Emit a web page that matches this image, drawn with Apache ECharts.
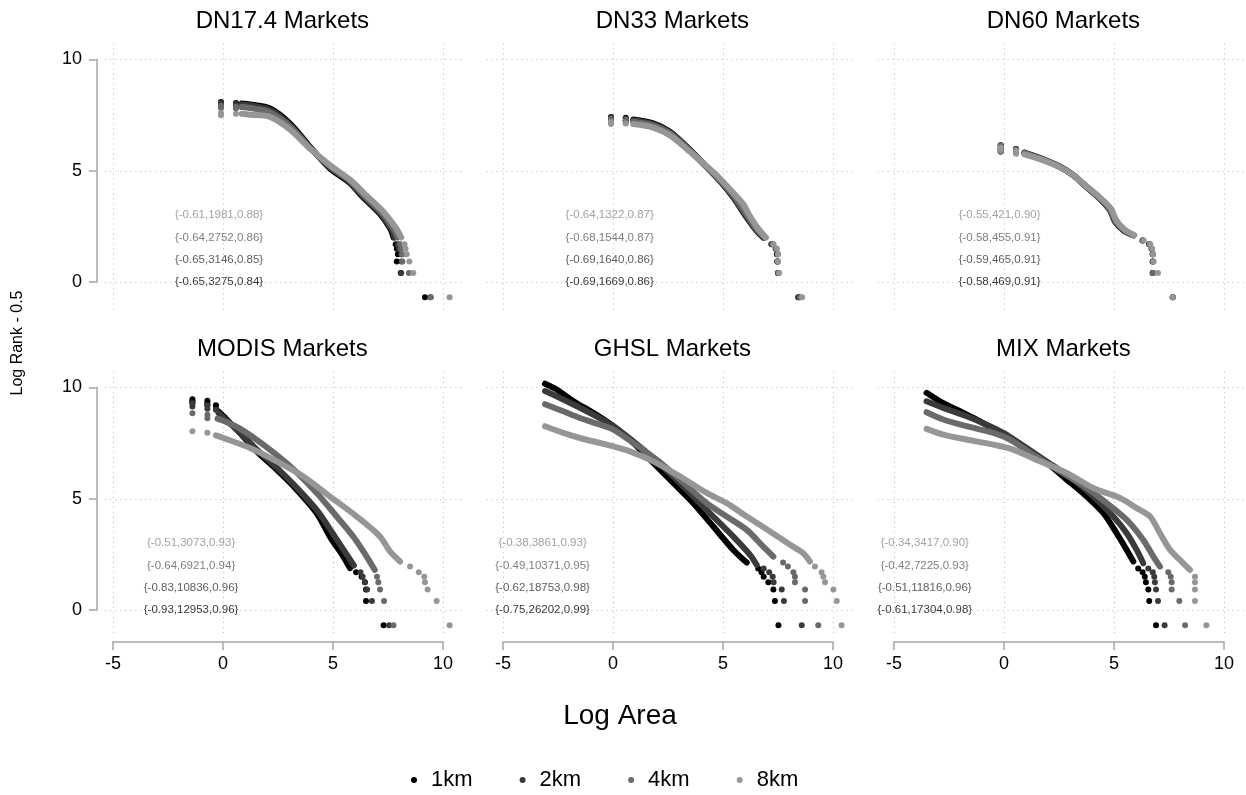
<!DOCTYPE html>
<html>
<head>
<meta charset="utf-8">
<script src="https://cdn.jsdelivr.net/npm/echarts@6/dist/echarts.min.js"></script>
<style>
html, body { margin: 0; padding: 0; background: #fff; }
#main { width: 1246px; height: 795px; }
</style>
</head>
<body>
<div id="main"></div>
<script>
var PANEL_TITLES = ['DN17.4 Markets', 'DN33 Markets', 'DN60 Markets', 'MODIS Markets', 'GHSL Markets', 'MIX Markets'];
var SERIES_NAMES = ['1km', '2km', '4km', '8km'];
var X_TICKS = [-5, 0, 5, 10];
var Y_TICKS = [0, 5, 10];

/* each panel: [1km, 2km, 4km, 8km], dense part of the curve and the loose dots */
var dn17Curves = [
	[[0.85,8.02],[1.23,7.98],[2.14,7.8],[3.05,7.12],[3.95,6.08],[4.86,5.1],[5.77,4.45],[6.37,3.8],[7.14,3.05],[7.6,2.4],[7.75,2.0]],
	[[0.85,7.98],[1.23,7.94],[2.14,7.73],[3.05,7.05],[3.95,6.05],[4.86,5.15],[5.77,4.5],[6.37,3.85],[7.14,3.1],[7.65,2.4],[7.8,2.0]],
	[[0.85,7.86],[1.23,7.82],[2.14,7.62],[3.05,6.98],[3.95,6.02],[4.86,5.2],[5.77,4.55],[6.4,3.9],[7.2,3.15],[7.75,2.4],[7.95,2.0]],
	[[0.85,7.56],[1.23,7.52],[2.14,7.42],[3.05,6.85],[3.95,6.0],[4.86,5.25],[5.77,4.6],[6.45,3.95],[7.25,3.2],[7.85,2.45],[8.1,2.0]]
];
var dn17Dots = [
	[[-0.09,8.09],[-0.09,7.97],[0.59,8.05],[0.59,7.93],[7.85,1.7],[7.9,1.5],[7.95,1.25],[7.9,0.92],[8.08,0.41],[9.18,-0.69]],
	[[-0.09,8.05],[-0.09,7.92],[0.59,8.0],[0.59,7.88],[7.95,1.7],[8.0,1.5],[8.1,1.25],[8.12,0.92],[8.1,0.41],[9.42,-0.69]],
	[[-0.09,7.92],[-0.09,7.82],[0.59,7.88],[0.59,7.8],[8.05,1.7],[8.1,1.5],[8.15,1.25],[8.15,0.92],[8.45,0.41],[9.45,-0.69]],
	[[-0.09,7.59],[-0.09,7.5],[0.59,7.56],[8.25,1.7],[8.3,1.5],[8.35,1.25],[8.47,0.92],[8.65,0.41],[10.3,-0.69]]
];
var dn33Curves = [
	[[0.92,7.3],[1.83,7.13],[2.59,6.76],[3.35,6.08],[4.26,5.17],[4.86,4.55],[5.47,3.8],[6.08,2.9],[6.53,2.3],[6.83,2.0]],
	[[0.92,7.27],[1.83,7.1],[2.59,6.73],[3.35,6.06],[4.26,5.16],[4.86,4.55],[5.47,3.82],[6.08,2.92],[6.53,2.32],[6.85,2.0]],
	[[0.92,7.2],[1.83,7.03],[2.59,6.68],[3.35,6.02],[4.26,5.18],[4.86,4.6],[5.47,3.9],[6.1,3.0],[6.55,2.35],[6.9,2.0]],
	[[0.92,7.1],[1.83,6.94],[2.59,6.59],[3.35,5.98],[4.26,5.2],[4.86,4.65],[5.47,4.0],[5.92,3.5],[6.2,3.0],[6.6,2.4],[6.95,2.0]]
];
var dn33Dots = [
	[[-0.09,7.42],[-0.09,7.3],[0.58,7.38],[0.58,7.25],[7.2,1.7],[7.4,1.5],[7.45,1.25],[7.47,0.92],[7.5,0.41],[8.42,-0.69]],
	[[-0.09,7.4],[-0.09,7.28],[0.58,7.35],[0.58,7.22],[7.22,1.7],[7.4,1.5],[7.47,1.25],[7.47,0.92],[7.5,0.41],[8.45,-0.69]],
	[[-0.09,7.34],[-0.09,7.22],[0.58,7.28],[0.58,7.15],[7.25,1.7],[7.42,1.5],[7.5,1.25],[7.5,0.92],[7.52,0.41],[8.5,-0.69]],
	[[-0.09,7.19],[-0.09,7.1],[0.58,7.12],[7.3,1.7],[7.45,1.5],[7.5,1.25],[7.5,0.92],[7.55,0.41],[8.6,-0.69]]
];
var dn60Curves = [
	[[0.93,5.82],[1.64,5.57],[2.55,5.18],[3.15,4.8],[3.76,4.27],[4.36,3.75],[4.82,3.23],[5.05,2.72],[5.42,2.33],[5.88,2.1]],
	[[0.93,5.81],[1.64,5.56],[2.55,5.17],[3.15,4.79],[3.76,4.26],[4.36,3.74],[4.82,3.22],[5.05,2.71],[5.42,2.32],[5.88,2.1]],
	[[0.93,5.79],[1.64,5.55],[2.55,5.16],[3.15,4.8],[3.76,4.28],[4.36,3.77],[4.84,3.25],[5.08,2.74],[5.45,2.34],[5.9,2.1]],
	[[0.93,5.74],[1.64,5.52],[2.55,5.15],[3.15,4.8],[3.76,4.3],[4.36,3.8],[4.86,3.3],[5.1,2.78],[5.48,2.36],[5.92,2.1]]
];
var dn60Dots = [
	[[-0.15,6.15],[-0.15,6.0],[-0.15,5.88],[0.55,5.98],[0.55,5.82],[6.3,1.87],[6.6,1.7],[6.71,1.5],[6.76,1.25],[6.76,0.92],[6.76,0.41],[7.67,-0.69]],
	[[-0.15,6.14],[-0.15,5.99],[-0.15,5.87],[0.55,5.97],[0.55,5.81],[6.3,1.87],[6.6,1.7],[6.71,1.5],[6.76,1.25],[6.76,0.92],[6.76,0.41],[7.67,-0.69]],
	[[-0.15,6.12],[-0.15,5.97],[-0.15,5.86],[0.55,5.95],[0.55,5.8],[6.32,1.87],[6.62,1.7],[6.72,1.5],[6.77,1.25],[6.77,0.92],[6.78,0.41],[7.67,-0.69]],
	[[-0.15,6.04],[-0.15,5.92],[0.55,5.9],[0.55,5.76],[6.35,1.87],[6.65,1.7],[6.74,1.5],[6.78,1.25],[6.8,0.92],[7.0,0.41],[7.67,-0.69]]
];
var modisCurves = [
	[[-0.21,8.93],[0.02,8.71],[0.77,7.96],[1.53,7.13],[2.44,6.31],[3.35,5.41],[4.26,4.35],[4.86,3.3],[5.47,2.4],[5.77,1.88]],
	[[-0.2,8.85],[0.02,8.64],[0.77,7.98],[1.53,7.22],[2.44,6.4],[3.35,5.5],[4.26,4.5],[4.95,3.5],[5.55,2.6],[5.95,2.0]],
	[[-0.25,8.6],[0.02,8.5],[0.77,8.15],[1.83,7.43],[3.05,6.46],[4.26,5.26],[5.17,4.2],[5.92,3.3],[6.53,2.4],[6.9,1.8]],
	[[-0.32,7.85],[0.02,7.73],[1.23,7.28],[2.44,6.68],[3.65,6.0],[4.86,5.1],[6.08,4.2],[7.14,3.3],[7.59,2.63],[8.05,2.18]]
];
var modisDots = [
	[[-1.39,9.47],[-1.39,9.38],[-1.39,9.3],[-0.71,9.4],[-0.71,9.3],[-0.71,9.2],[-0.32,9.2],[-0.32,9.05],[6.05,1.7],[6.3,1.5],[6.45,1.25],[6.5,0.92],[6.5,0.41],[7.3,-0.69]],
	[[-1.39,9.29],[-1.39,9.15],[-0.71,9.2],[-0.71,9.05],[-0.32,9.0],[6.25,1.7],[6.35,1.5],[6.45,1.25],[6.55,0.92],[6.77,0.41],[7.55,-0.69]],
	[[-1.39,8.84],[-0.71,8.77],[-0.71,8.62],[7.0,1.5],[7.06,1.25],[7.14,0.92],[7.32,0.41],[7.75,-0.69]],
	[[-1.39,8.03],[-0.71,7.97],[8.5,1.95],[8.9,1.7],[9.15,1.5],[9.18,1.25],[9.3,0.92],[9.71,0.41],[10.3,-0.69]]
];
var ghslCurves = [
	[[-3.09,10.17],[-2.56,9.91],[-1.8,9.38],[-0.9,8.86],[0.02,8.26],[0.92,7.51],[1.83,6.61],[2.74,5.71],[3.65,4.8],[4.56,3.75],[5.47,2.7],[6.08,2.13]],
	[[-3.09,9.84],[-2.26,9.46],[-0.9,8.78],[0.02,8.26],[0.92,7.58],[1.83,6.83],[2.74,6.0],[3.65,5.1],[4.56,4.2],[5.47,3.3],[6.23,2.48],[6.53,2.03]],
	[[-3.09,9.25],[-2.26,8.93],[-1.5,8.63],[-0.59,8.33],[0.02,8.11],[0.92,7.51],[1.98,6.76],[3.05,5.86],[4.26,4.8],[5.17,4.2],[6.08,3.6],[6.83,2.85],[7.29,2.4]],
	[[-3.09,8.26],[-2.26,7.96],[-1.5,7.73],[-0.29,7.43],[0.77,7.13],[1.83,6.68],[3.05,6.0],[4.26,5.26],[5.17,4.8],[6.08,4.2],[7.14,3.53],[8.05,2.93],[8.65,2.55],[8.95,2.18]]
];
var ghslDots = [
	[[6.6,1.87],[6.75,1.7],[6.85,1.5],[7.06,1.25],[7.29,0.92],[7.36,0.41],[7.52,-0.69]],
	[[6.85,1.87],[7.1,1.7],[7.26,1.5],[7.3,1.25],[7.67,0.92],[7.77,0.41],[8.58,-0.69]],
	[[7.73,2.13],[7.95,1.95],[8.2,1.7],[8.27,1.5],[8.27,1.25],[8.73,0.92],[8.73,0.41],[9.33,-0.69]],
	[[9.18,1.95],[9.48,1.7],[9.56,1.5],[9.64,1.25],[10.02,0.92],[10.17,0.41],[10.39,-0.69]]
];
var mixCurves = [
	[[-3.52,9.76],[-2.91,9.38],[-2.0,8.93],[-1.09,8.48],[-0.03,7.88],[1.03,7.21],[1.94,6.61],[2.85,5.86],[3.76,5.1],[4.52,4.35],[5.12,3.45],[5.58,2.7],[5.88,2.18]],
	[[-3.52,9.38],[-2.76,9.08],[-1.7,8.71],[-0.79,8.33],[-0.03,7.96],[1.03,7.28],[1.94,6.68],[3.15,5.86],[4.06,5.1],[4.97,4.2],[5.58,3.45],[6.03,2.7],[6.33,2.1]],
	[[-3.52,8.89],[-2.76,8.56],[-1.7,8.26],[-0.48,7.96],[0.27,7.66],[1.33,6.98],[2.55,6.23],[3.76,5.48],[4.67,4.8],[5.58,4.05],[6.33,3.15],[6.79,2.4],[7.09,1.95]],
	[[-3.52,8.14],[-2.76,7.88],[-1.7,7.66],[-0.48,7.43],[0.42,7.21],[1.64,6.68],[2.85,6.16],[4.06,5.48],[5.27,5.03],[6.03,4.58],[6.64,4.2],[7.09,3.45],[7.55,2.7],[8.15,2.1],[8.45,1.8]]
];
var mixDots = [
	[[6.1,1.87],[6.3,1.7],[6.4,1.5],[6.45,1.25],[6.56,0.92],[6.6,0.41],[6.91,-0.69]],
	[[6.56,1.87],[6.76,1.7],[6.83,1.5],[6.86,1.25],[6.91,0.92],[7.0,0.41],[7.3,-0.69]],
	[[7.47,1.7],[7.58,1.5],[7.62,1.25],[7.62,0.92],[7.97,0.41],[8.23,-0.69]],
	[[8.68,1.5],[8.68,1.25],[8.68,0.92],[8.68,0.41],[9.2,-0.69]]
];

/* {slope, N, R2} per series [1km, 2km, 4km, 8km] */
var dn17Stats = ['{-0.65,3275,0.84}', '{-0.65,3146,0.85}', '{-0.64,2752,0.86}', '{-0.61,1981,0.88}'];
var dn33Stats = ['{-0.69,1669,0.86}', '{-0.69,1640,0.86}', '{-0.68,1544,0.87}', '{-0.64,1322,0.87}'];
var dn60Stats = ['{-0.58,469,0.91}', '{-0.59,465,0.91}', '{-0.58,455,0.91}', '{-0.55,421,0.90}'];
var modisStats = ['{-0.93,12953,0.96}', '{-0.83,10836,0.96}', '{-0.64,6921,0.94}', '{-0.51,3073,0.93}'];
var ghslStats = ['{-0.75,26202,0.99}', '{-0.62,18753,0.98}', '{-0.49,10371,0.95}', '{-0.38,3861,0.93}'];
var mixStats = ['{-0.61,17304,0.98}', '{-0.51,11816,0.96}', '{-0.42,7225,0.93}', '{-0.34,3417,0.90}'];
var STAT_X = [-0.18, -0.15, -0.2, -1.45, -3.2, -3.6];
var STAT_Y = [0, 1, 2, 3];

var CURVES = [dn17Curves, dn33Curves, dn60Curves, modisCurves, ghslCurves, mixCurves];
var DOTS = [dn17Dots, dn33Dots, dn60Dots, modisDots, ghslDots, mixDots];
var STATS = [dn17Stats, dn33Stats, dn60Stats, modisStats, ghslStats, mixStats];

/* layout */
var FONT = '"Liberation Sans", Arial, Helvetica, sans-serif';
var COLORS = ['#000000', '#3a3a3a', '#6a6a6a', '#969696'];
var TEXT_COLORS = ['#000000', '#333333', '#5e5e5e', '#8a8a8a'];
var GRID_COLOR = '#b8b8b8';
var AXIS_COLOR = '#a6a6a6';
var PX_X = 22, PX_Y = 22.25;
var COL_ZERO = [223, 613, 1004];
var ROW_ZERO = [282, 610];
var COL_XMIN = [-5.35, -5.75, -5.75];
var XMAX = 11.0;
var ROW_YMAX = [10.72, 10.7];
var ROW_YMIN = [-1.4, -1.15];
var Y_AXIS_X = 97, X_AXIS_Y = 642;

var grids = [], xAxes = [], yAxes = [], series = [], graphics = [];

function hiddenAxis(gi) {
	return {gridIndex: gi, type: 'value', show: false, min: 0, max: 1};
}

for (var p = 0; p < 6; p++) {
	var c = p % 3, r = Math.floor(p / 3);
	grids.push({
		left: COL_ZERO[c] + PX_X * COL_XMIN[c],
		top: ROW_ZERO[r] - PX_Y * ROW_YMAX[r],
		width: PX_X * (XMAX - COL_XMIN[c]),
		height: PX_Y * (ROW_YMAX[r] - ROW_YMIN[r])
	});
	xAxes.push({
		gridIndex: p, type: 'value', min: COL_XMIN[c], max: XMAX,
		axisLine: {show: false},
		axisTick: {show: false, customValues: X_TICKS},
		axisLabel: {show: false, customValues: X_TICKS},
		splitLine: {show: true, lineStyle: {color: GRID_COLOR, width: 1, type: [1, 4]}}
	});
	yAxes.push({
		gridIndex: p, type: 'value', min: ROW_YMIN[r], max: ROW_YMAX[r],
		axisLine: {show: false},
		axisTick: {show: false, customValues: Y_TICKS},
		axisLabel: {show: false, customValues: Y_TICKS},
		splitLine: {show: true, lineStyle: {color: GRID_COLOR, width: 1, type: [1, 4]}}
	});
	for (var s = 0; s < 4; s++) {
		series.push({
			name: SERIES_NAMES[s], type: 'line', xAxisIndex: p, yAxisIndex: p,
			data: CURVES[p][s], showSymbol: false, smooth: 0.3, z: 2 + s,
			lineStyle: {color: COLORS[s], width: 6, cap: 'round', join: 'round'},
			itemStyle: {color: COLORS[s]}
		});
		series.push({
			name: SERIES_NAMES[s], type: 'scatter', xAxisIndex: p, yAxisIndex: p,
			data: DOTS[p][s], symbolSize: 6, z: 2 + s,
			itemStyle: {color: COLORS[s], opacity: 1}
		});
	}
	var statData = [];
	for (var k = 0; k < 4; k++) {
		statData.push({
			name: STATS[p][k],
			value: [STAT_X[p], STAT_Y[k]],
			label: {color: TEXT_COLORS[k]}
		});
	}
	series.push({
		name: 'stats', type: 'scatter', xAxisIndex: p, yAxisIndex: p,
		data: statData, symbolSize: 1, z: 10,
		itemStyle: {color: 'rgba(0,0,0,0)'},
		label: {show: true, position: 'inside', formatter: '{b}', fontSize: 11.5, fontFamily: FONT}
	});
	graphics.push({
		type: 'text', x: COL_ZERO[c] + PX_X * 2.7, y: 21 + (ROW_ZERO[r] - ROW_ZERO[0]),
		style: {text: PANEL_TITLES[p], font: '24px ' + FONT, fill: '#000', textAlign: 'center', textVerticalAlign: 'middle'}
	});
}

/* left column value axes, drawn 0..10 only */
for (var r2 = 0; r2 < 2; r2++) {
	var gi = grids.length;
	grids.push({left: Y_AXIS_X, width: 1, top: ROW_ZERO[r2] - PX_Y * 10, height: PX_Y * 10});
	xAxes.push(hiddenAxis(gi));
	yAxes.push({
		gridIndex: gi, type: 'value', min: 0, max: 10, interval: 5, position: 'left',
		axisLine: {show: true, lineStyle: {color: AXIS_COLOR, width: 1.5}},
		axisTick: {show: true, length: 8, lineStyle: {color: AXIS_COLOR, width: 1.5}},
		axisLabel: {margin: 15, fontSize: 18, color: '#000', fontFamily: FONT},
		splitLine: {show: false}
	});
}
/* bottom row axes, drawn -5..10 only */
for (var c2 = 0; c2 < 3; c2++) {
	var gj = grids.length;
	grids.push({left: COL_ZERO[c2] - PX_X * 5, width: PX_X * 15, top: X_AXIS_Y - 1, height: 1});
	xAxes.push({
		gridIndex: gj, type: 'value', min: -5, max: 10, interval: 5, position: 'bottom',
		axisLine: {show: true, lineStyle: {color: AXIS_COLOR, width: 1.5}},
		axisTick: {show: true, length: 8, lineStyle: {color: AXIS_COLOR, width: 1.5}},
		axisLabel: {margin: 13, fontSize: 18, color: '#000', fontFamily: FONT},
		splitLine: {show: false}
	});
	yAxes.push(hiddenAxis(gj));
}

graphics.push({
	type: 'text', x: 620, y: 716,
	style: {text: 'Log Area', font: '28px ' + FONT, fill: '#000', textAlign: 'center', textVerticalAlign: 'middle'}
});
graphics.push({
	type: 'text', x: 18, y: 343, rotation: Math.PI / 2,
	style: {text: 'Log Rank - 0.5', font: '16px ' + FONT, fill: '#000', textAlign: 'center', textVerticalAlign: 'middle'}
});

var chart = echarts.init(document.getElementById('main'));
chart.setOption({
	animation: false,
	backgroundColor: '#fff',
	textStyle: {fontFamily: FONT},
	legend: {
		data: SERIES_NAMES, icon: 'circle', itemWidth: 6, itemHeight: 6, itemGap: 47,
		left: 406, top: 764, selectedMode: false,
		textStyle: {fontSize: 22, color: '#000', fontFamily: FONT, padding: [0, 0, 0, 9]}
	},
	grid: grids,
	xAxis: xAxes,
	yAxis: yAxes,
	series: series,
	graphic: graphics
});
</script>
</body>
</html>
